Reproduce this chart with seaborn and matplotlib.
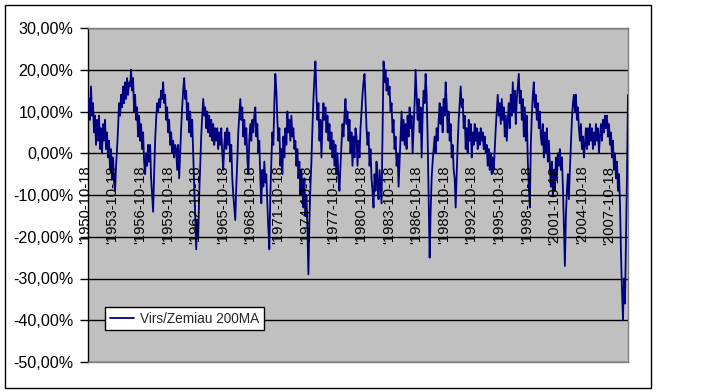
import matplotlib
matplotlib.use("Agg")
import matplotlib.pyplot as plt
import matplotlib.dates as mdates
import matplotlib.transforms as mtransforms
from matplotlib.patches import Rectangle
import seaborn as sns
import pandas as pd

# ---- data (percent above / below the 200-day moving average) ----
series_start = "1951-02-18"
series_step = "954h"          # one reading every ~40 days
legend_label = "Virs/Zemiau 200MA"

seg_1950s = [10, 13, 8, 16, 9, 12, 5, 9, 2, 8,
             3, 9, 1, 6, 0, 7, 3, 8, 1, 5,
             -1, 3, -4, 1, -6, -1, -7, -9, -3, 1,
             6, 12, 9, 14, 11, 16, 12, 17, 13, 18,
             14, 17, 16, 20, 15, 18, 10, 14, 8, 11,
             4, 9, 3, 7, 1, 5, -2, -5, 0, -3,
             2, -2, 2, -6, -10, -14, -5, 3, 8, 12,
             10, 13, 11, 15, 13, 17, 12, 14, 8, 11,
             5, 8, 2, 5, 0, 3, -1, 2]
seg_1960s = [1, -4, 2, -6, 0, 6, 11, 15, 18, 13,
             15, 8, 12, 5, 10, 4, 8, 0, -8, -15,
             -23, -16, -20, -10, -3, 4, 9, 13, 9, 11,
             6, 10, 5, 9, 4, 8, 3, 7, 2, 6,
             3, 6, 1, 5, 2, 6, 0, -4, 2, 5,
             1, 6, 2, 5, -2, 2, -6, -10, -13, -16,
             -8, -2, 5, 9, 13, 8, 11, 4, 8, 2,
             6, -1, -5, 3, 7, 3, 8, 5, 9, 11,
             4, 7, 0, 3, -6, -12, -4, -8, -2, -7]
seg_1970s = [-5, -12, -18, -23, -10, -2, 5, 2, 12, 19,
             15, 8, 3, 6, -3, 1, -5, 4, -1, 6,
             2, 10, 5, 8, 3, 9, 4, 6, 1, 3,
             -3, 1, -6, -2, -10, -4, -9, -13, -6, -15,
             -10, -18, -29, -16, -8, -2, 6, 13, 18, 22,
             14, 8, 12, 3, 8, -1, 7, 12, 8, 11,
             5, 9, 3, 7, 1, 5, -1, 3, -3, 2,
             -5, 0, -6, -9, -3, 2, 7, 4, 9, 13,
             7, 10, 3, 8, 0, 5, -3, 4, -1, 6]
seg_1980s = [4, -3, 3, -1, 6, 10, 14, 17, 19, 13,
             6, 2, 5, -3, 1, -6, -9, -13, -5, -9,
             -2, -7, -11, -4, -8, -12, 5, 22, 17, 20,
             15, 18, 14, 16, 10, 12, 5, 8, 1, 4,
             -3, 0, -8, -2, 4, 10, 3, 8, 2, 7,
             1, 9, 4, 11, 6, 9, 0, 6, 12, 20,
             14, 8, 13, 5, 11, -1, 9, 15, 12, 19,
             14, 4, -10, -25, -14, -6, -2, 1, 4, 0,
             6, 3, 8, 12, 7, 11, 5, 13, 9, 17,
             12]
seg_1990s = [5, 10, 3, 7, -1, 2, -4, -6, -13, -5,
             2, 8, 12, 16, 11, 13, 6, 9, 1, 6,
             0, 8, 3, 7, -1, 5, 2, 7, 3, 6,
             1, 5, 2, 6, 3, 5, 1, 4, 0, 2,
             -3, 1, -4, 0, -5, -1, -4, 1, 6, 10,
             14, 9, 12, 7, 13, 8, 11, 4, 9, 3,
             8, 12, 6, 14, 9, 17, 10, 15, 7, 13,
             16, 19, 12, 15, 8, 13, 4, 11, 3, 9,
             -2, -8, -13, 2, 9, 14, 17, 11, 14, 8,
             12]
seg_2000s = [6, 10, 4, 2, 7, -1, 5, 0, 6, -2,
             3, -3, -8, -2, -10, -4, -9, -1, -6, 0,
             -3, 1, -4, -1, -8, -17, -27, -15, -9, -5,
             -11, -4, 2, 8, 12, 14, 10, 14, 8, 11,
             6, 3, 7, 1, 4, -1, 2, 6, 1, 6,
             2, 7, 3, 6, 1, 5, 2, 7, 3, 6,
             0, 4, 7, 3, 8, 5, 9, 6, 9, 4,
             7, 2, 5, -1, 3, -4, 0, -6, -2, -9,
             -5, -12, -24, -33, -40, -30, -36, -20, -5, 14]

x_tick_dates = ["1950-10-18", "1953-10-18", "1956-10-18", "1959-10-18",
                "1962-10-18", "1965-10-18", "1968-10-18", "1971-10-18",
                "1974-10-18", "1977-10-18", "1980-10-18", "1983-10-18",
                "1986-10-18", "1989-10-18", "1992-10-18", "1995-10-18",
                "1998-10-18", "2001-10-18", "2004-10-18", "2007-10-18"]
y_ticks = [-50, -40, -30, -20, -10, 0, 10, 20, 30]

values = seg_1950s + seg_1960s + seg_1970s + seg_1980s + seg_1990s + seg_2000s
dates = pd.date_range(series_start, periods=len(values), freq=series_step)
df = pd.DataFrame({"date": dates, "pct": values})

# ---- figure ----
sns.set_style("white")
plt.rcParams["font.family"] = ["Liberation Sans", "DejaVu Sans"]

W, H = 721, 392
fig = plt.figure(figsize=(W / 100, H / 100), dpi=100)
fig.patch.set_facecolor("white")
ax = fig.add_axes([88 / W, 1 - 362 / H, 540 / W, 334 / H])

sns.lineplot(data=df, x="date", y="pct", ax=ax, color="#000080", lw=1.3,
             label=legend_label, estimator=None, sort=False, zorder=3)

ax.set_xlim(dates[0], dates[-1])
ax.set_ylim(-50, 30)
ax.set_facecolor("#C0C0C0")
ax.set_axisbelow(True)
ax.yaxis.grid(True, color="black", lw=1)
ax.xaxis.grid(False)
ax.set_xlabel("")
ax.set_ylabel("")

ax.set_yticks(y_ticks)
ax.set_yticklabels([f"{v:.2f}%".replace(".", ",") for v in y_ticks])
ax.tick_params(axis="y", direction="out", length=5.5, width=1, color="black",
               pad=5.2, labelsize=11.6, labelcolor="black", left=True)
ax.set_xticks([])
ax.tick_params(axis="x", length=0, labelbottom=False)

for side in ["top", "right", "bottom"]:
    ax.spines[side].set_color("#808080")
    ax.spines[side].set_linewidth(1)
ax.spines["left"].set_color("black")
ax.spines["left"].set_linewidth(1)

# category labels written at the zero line (Excel style)
lab_tr = ax.transData + mtransforms.ScaledTranslation(0, -12.5 / 100, fig.dpi_scale_trans)
for lbl in x_tick_dates:
    ax.text(mdates.date2num(pd.Timestamp(lbl)), 0, "'" + lbl, rotation=90,
            ha="center", va="top", fontsize=10.6, color="black",
            transform=lab_tr, clip_on=False, zorder=4)

leg = ax.legend(loc="center left", bbox_to_anchor=(0.0315, 0.13), frameon=True,
                fancybox=False, edgecolor="black", facecolor="white", framealpha=1,
                borderaxespad=0, handlelength=1.8, handletextpad=0.45,
                borderpad=0.35, fontsize=9.8)
leg.get_frame().set_linewidth(1)
leg.set_zorder(5)

fig.patches.append(Rectangle((5 / W, 4 / H), 646 / W, 383 / H, transform=fig.transFigure,
                             fill=False, edgecolor="black", lw=1))

fig.savefig("out.png", dpi=100)
